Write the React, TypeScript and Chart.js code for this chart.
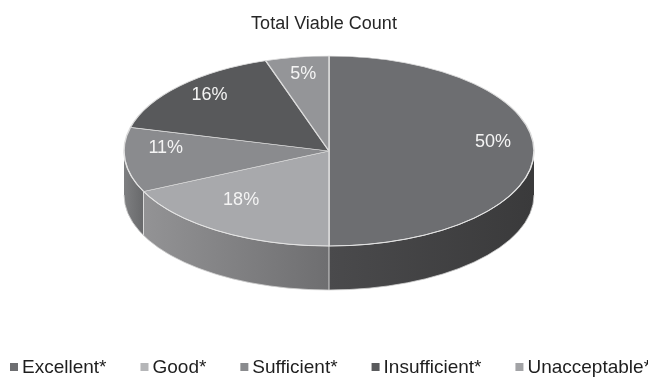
import React, { useEffect, useRef } from "react";
import { Chart, registerables } from "chart.js";

Chart.register(...registerables);

const chartTitle = "Total Viable Count";
const categories = ["Excellent*", "Good*", "Sufficient*", "Insufficient*", "Unacceptable*"];
const values = [50, 18, 11, 16, 5];
const topColors = ["#6d6e71", "#a8a9ac", "#8a8b8e", "#58595b", "#949598"];
const legendColors = ["#6d6e71", "#b5b6b8", "#8a8b8e", "#5a5b5d", "#a2a3a6"];
const sideColors = [
  ["#4a4a4c", "#3a3a3b"],
  ["#939395", "#6e6e70"],
  ["#7e7f81", "#68696b"],
  ["#454547", "#3a3a3b"],
  ["#77787a", "#66676a"],
];

const FONT = "'Liberation Sans', Arial, Helvetica, sans-serif";

const pie3d = {
  id: "pie3d",
  beforeDatasetsDraw(chart: any) {
    const ctx = chart.ctx;
    const meta = chart.getDatasetMeta(0);
    const first = meta.data[0];
    if (!first) return;
    const CX = 329, CY = 151, RX = 205, RY = 95, D = 44;
    chart.$g = { CX, CY, RX, RY, D };
    // sides
    meta.data.forEach((arc: any, i: number) => {
      const s = arc.startAngle, e = arc.endAngle;
      const a0 = Math.max(s, 0), a1 = Math.min(e, Math.PI);
      if (a1 <= a0) return;
      const xA = CX + RX * Math.cos(a0), xB = CX + RX * Math.cos(a1);
      const left = Math.min(xA, xB, a0 <= Math.PI && a1 >= Math.PI ? CX - RX : Infinity);
      const right = Math.max(xA, xB, a0 <= 0 ? CX + RX : -Infinity);
      const g = ctx.createLinearGradient(left, 0, right + 0.01, 0);
      const cols = sideColors[i];
      g.addColorStop(0, cols[0]);
      g.addColorStop(1, cols[1]);
      ctx.save();
      ctx.beginPath();
      ctx.ellipse(CX, CY, RX, RY, 0, a0, a1, false);
      ctx.lineTo(CX + RX * Math.cos(a1), CY + RY * Math.sin(a1) + D);
      ctx.ellipse(CX, CY + D, RX, RY, 0, a1, a0, true);
      ctx.closePath();
      ctx.fillStyle = g;
      ctx.fill();
      ctx.restore();
    });
    // side boundaries & bottom rim
    ctx.save();
    ctx.strokeStyle = "rgba(225,225,225,0.9)";
    ctx.lineWidth = 1;
    meta.data.forEach((arc: any) => {
      const a = arc.startAngle;
      if (a > 0 && a < Math.PI) {
        const x = CX + RX * Math.cos(a), y = CY + RY * Math.sin(a);
        ctx.beginPath();
        ctx.moveTo(x, y);
        ctx.lineTo(x, y + D);
        ctx.stroke();
      }
    });
    ctx.strokeStyle = "rgba(210,210,210,0.8)";
    ctx.beginPath();
    ctx.ellipse(CX, CY + D, RX, RY, 0, 0, Math.PI, false);
    ctx.stroke();
    ctx.restore();
    // transform for top surface
    const R = first.outerRadius;
    ctx.save();
    ctx.translate(CX, CY);
    ctx.scale(RX / R, RY / R);
    ctx.translate(-first.x, -first.y);
  },
  afterDatasetsDraw(chart: any) {
    const ctx = chart.ctx;
    ctx.restore();
    const g = chart.$g;
    if (!g) return;
    const { CX, CY, RX, RY } = g;
    ctx.save();
    ctx.strokeStyle = "rgba(230,230,230,0.9)";
    ctx.lineWidth = 1;
    ctx.beginPath();
    ctx.ellipse(CX, CY, RX, RY, 0, 0, Math.PI, false);
    ctx.stroke();
    // labels
    const meta = chart.getDatasetMeta(0);
    const total = values.reduce((a, b) => a + b, 0);
    ctx.fillStyle = "#f4f4f4";
    ctx.font = `18px ${FONT}`;
    ctx.textAlign = "center";
    ctx.textBaseline = "middle";
    meta.data.forEach((arc: any, i: number) => {
      const mid = (arc.startAngle + arc.endAngle) / 2;
      const fx = 0.8;
      const fy = 0.72;
      const x = CX + RX * fx * Math.cos(mid);
      const y = CY + RY * fy * Math.sin(mid) - 9;
      ctx.fillText(Math.round((values[i] / total) * 100) + "%", x, y);
    });
    ctx.restore();
  },
  afterDraw(chart: any) {
    const ctx = chart.ctx;
    ctx.save();
    ctx.font = `19px ${FONT}`;
    ctx.textBaseline = "middle";
    ctx.textAlign = "left";
    let x = 10;
    const y = 367;
    categories.forEach((c, i) => {
      ctx.fillStyle = legendColors[i];
      ctx.fillRect(x, y - 4, 8, 8);
      ctx.fillStyle = "#1e1e1e";
      ctx.fillText(c, x + 12, y + 1);
      x += 12 + ctx.measureText(c).width + 34;
    });
    ctx.restore();
  },
};

export default function App() {
  const ref = useRef<HTMLCanvasElement | null>(null);
  useEffect(() => {
    if (!ref.current) return;
    const chart = new Chart(ref.current, {
      type: "pie",
      data: {
        labels: categories,
        datasets: [
          {
            data: values,
            backgroundColor: topColors,
            borderColor: "#dcdcdc",
            borderWidth: 1,
          },
        ],
      },
      options: {
        animation: false,
        responsive: false,
        layout: { padding: { top: 0, bottom: 60, left: 0, right: 0 } },
        plugins: {
          legend: { display: false },
          tooltip: { enabled: false },
          title: {
            display: true,
            text: chartTitle,
            color: "#262626",
            font: { size: 18, family: FONT, weight: "normal" },
            padding: { top: 13, bottom: 10 },
          },
        },
      },
      plugins: [pie3d],
    } as any);
    return () => chart.destroy();
  }, []);
  return (
    <div style={{ position: "absolute", left: 0, top: 0, width: 648, height: 377, background: "#fff" }}>
      <canvas ref={ref} width={648} height={377} style={{ display: "block" }} />
    </div>
  );
}
